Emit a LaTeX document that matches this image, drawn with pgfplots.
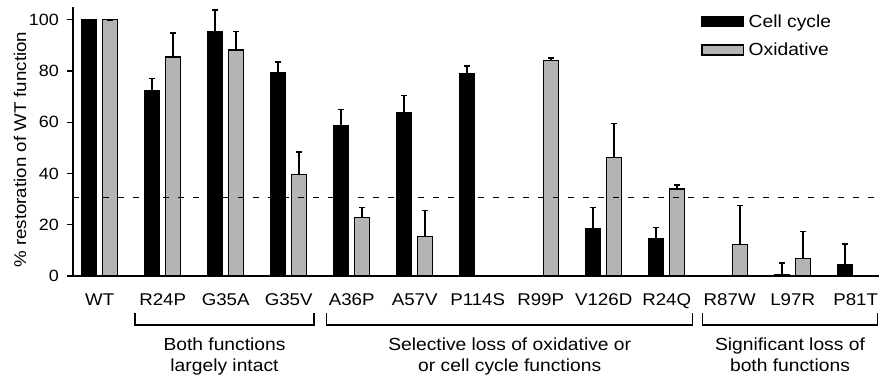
\documentclass[border=0pt]{standalone}
\usepackage{fontspec}
\setmainfont{Liberation Sans}[FakeStretch=1.1]
\usepackage{pgfplots}
\pgfplotsset{compat=1.18}
\definecolor{barg}{RGB}{180,180,180}
\begin{document}
\begin{tikzpicture}
\useasboundingbox (-73pt,-109pt) rectangle (806pt,276pt);
\begin{axis}[
  at={(0,0)}, anchor=south west,
  scale only axis, width=806pt, height=269pt,
  xmin=-0.424, xmax=12.37, ymin=0, ymax=105,
  ybar, bar width=15pt,
  axis lines*=left,
  axis line style={line width=1.5pt, black},
  /pgf/number format/assume math mode=true,
  ytick={0,20,40,60,80,100},
  xtick={0,1,2,3,4,5,6,7,8,9,10,11,12},
  xticklabels={WT,R24P,G35A,G35V,A36P,A57V,P114S,R99P,V126D,R24Q,R87W,L97R,P81T},
  x tick style={draw=none},
  y tick style={line width=1.3pt, black},
  tick align=outside, major tick length=6pt,
  xticklabel style={anchor=base, yshift=-23.3pt, font=\fontsize{17}{20}\selectfont},
  yticklabel style={anchor=east, inner sep=0pt, xshift=-8pt, font=\fontsize{16.3}{18}\selectfont},
  legend style={draw=none, fill=none, inner sep=0pt, outer sep=0pt,
    at={(axis description cs:0.7795,0.971)}, anchor=north west,
    row sep=14pt, column sep=4.5pt,
    nodes={inner sep=0pt, anchor=west},
    font=\fontsize{17.5}{20}\selectfont},
  legend cell align=left,
]
\addplot[bar shift=-10.5pt, fill=black, draw=black, line width=1pt,
  legend image code/.code={\draw[fill=black, draw=black, line width=1pt] (0pt,-5pt) rectangle (41.6pt,5pt);},
  error bars/.cd, y dir=plus, y explicit,
  error bar style={line width=1.5pt, black},
  error mark options={rotate=90, mark size=3pt, line width=1.5pt, black}]
  coordinates {
  (0,100) +- (0,0)
  (1,72.4) +- (0,4.7)
  (2,95.4) +- (0,8.4)
  (3,79.3) +- (0,4.2)
  (4,58.7) +- (0,6.3)
  (5,63.9) +- (0,6.5)
  (6,79.0) +- (0,3.0)
  (8,18.6) +- (0,8.1)
  (9,14.7) +- (0,4.3)
  (11,0.5) +- (0,4.5)
  (12,4.3) +- (0,8.1)
  };
\addlegendentry{Cell cycle}
\addplot[bar shift=10.5pt, fill=barg, draw=black, line width=1.3pt,
  legend image code/.code={\draw[fill=barg, draw=black, line width=1.3pt] (0pt,-5pt) rectangle (41.6pt,5pt);},
  error bars/.cd, y dir=plus, y explicit,
  error bar style={line width=1.5pt, black},
  error mark options={rotate=90, mark size=3pt, line width=1.5pt, black}]
  coordinates {
  (0,100) +- (0,0)
  (1,85.5) +- (0,9.3)
  (2,88.2) +- (0,7.2)
  (3,39.5) +- (0,8.9)
  (4,22.9) +- (0,3.9)
  (5,15.5) +- (0,10.0)
  (7,84.0) +- (0,1.0)
  (8,46.2) +- (0,13.4)
  (9,33.9) +- (0,1.6)
  (10,12.4) +- (0,15.1)
  (11,6.9) +- (0,10.5)
  };
\addlegendentry{Oxidative}
\addplot[sharp plot, bar shift=0pt, forget plot, black, line width=1.4pt, dash pattern=on 6pt off 9pt]
  coordinates {(-0.424,30.6) (12.37,30.6)};
\end{axis}
\node[rotate=90, font=\fontsize{17}{20}\selectfont] at (-53pt,126.3pt) {\% restoration of WT function};
\draw[line width=1.5pt] (62pt,-36.7pt) -- (62pt,-49pt) -- (241pt,-49pt) -- (241pt,-36.7pt);
\draw[line width=1.5pt] (253.7pt,-36.7pt) -- (253.7pt,-49pt) -- (619.7pt,-49pt) -- (619.7pt,-36.7pt);
\draw[line width=1.5pt] (629.3pt,-36.7pt) -- (629.3pt,-49pt) -- (804.7pt,-49pt) -- (804.7pt,-36.7pt);
\node[align=center, anchor=north, inner sep=0pt, font=\fontsize{17.5}{20.7}\selectfont] at (151.5pt,-62pt) {Both functions\\largely intact};
\node[align=center, anchor=north, inner sep=0pt, font=\fontsize{17.5}{20.7}\selectfont] at (436.7pt,-62pt) {Selective loss of oxidative or\\or cell cycle functions};
\node[align=center, anchor=north, inner sep=0pt, font=\fontsize{17.5}{20.7}\selectfont] at (717pt,-62pt) {Significant loss of\\both functions};
\end{tikzpicture}
\end{document}
